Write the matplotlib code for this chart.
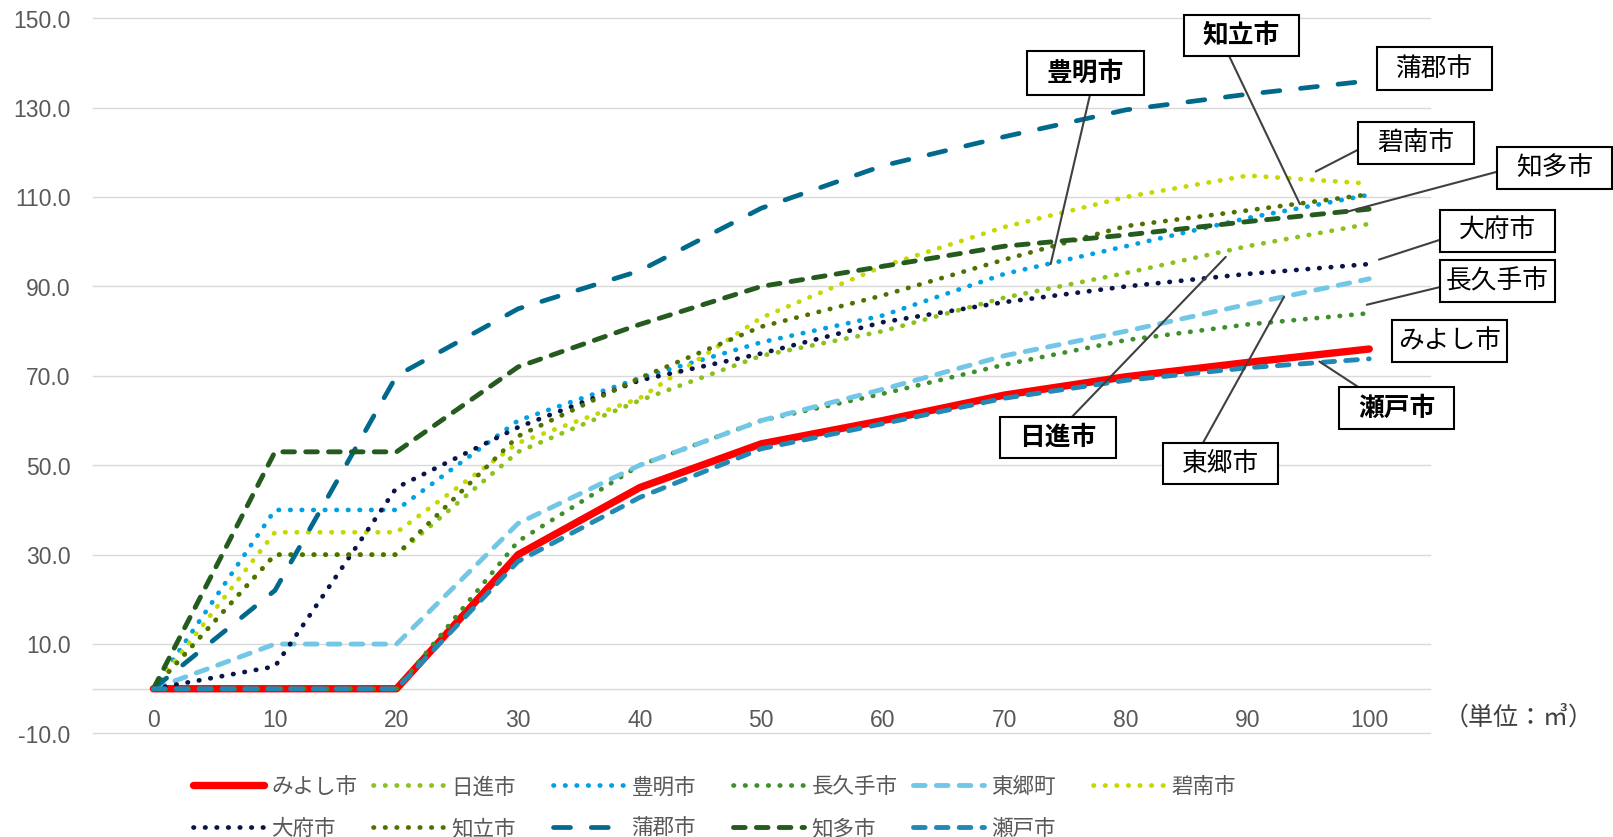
import matplotlib
matplotlib.use('Agg')
import matplotlib.pyplot as plt
from matplotlib.patches import Rectangle

# ---------------------------------------------------------------------------
# Data (値は図から読み取り)
# ---------------------------------------------------------------------------
AMOUNTS = [0, 10, 20, 30, 40, 50, 60, 70, 80, 90, 100]

NAMES = ['みよし市', '日進市', '豊明市', '長久手市', '東郷町', '碧南市',
         '大府市', '知立市', '蒲郡市', '知多市', '瀬戸市']

MIYOSHI   = [0, 0, 0, 30, 45, 54.8, 60, 65.7, 69.8, 73, 76]
NISSHIN   = [0, 30, 30, 53, 64.5, 74.5, 80, 87.5, 93, 99, 104]
TOYOAKE   = [0, 40, 40, 60, 69.5, 77.5, 83.5, 92.8, 99, 105.3, 110.5]
NAGAKUTE  = [0, 0, 0, 33, 50, 60, 66, 72.5, 78, 81.5, 84]
TOGO      = [0, 10, 10, 37, 50, 60, 67, 74.5, 80, 86, 91.7]
HEKINAN   = [0, 35, 35, 55, 65, 83, 94.5, 103.3, 110, 114.8, 113]
OBU       = [0, 5, 45, 58.5, 69, 75, 82, 86.5, 90, 92.8, 95]
CHIRYU    = [0, 30, 30, 56.5, 69.5, 81, 88, 96, 103.5, 107, 110.6]
GAMAGORI  = [0, 22, 70, 85, 93.5, 107.5, 117, 123.5, 129.5, 133, 136]
CHITA     = [0, 53, 53, 72, 81.5, 90, 94.5, 99, 101.5, 104.5, 107.3]
SETO      = [0, 0, 0, 28.5, 42.8, 53.7, 59.3, 65, 69, 71.8, 73.8]

VALUES = [MIYOSHI, NISSHIN, TOYOAKE, NAGAKUTE, TOGO, HEKINAN,
          OBU, CHIRYU, GAMAGORI, CHITA, SETO]

# ---------------------------------------------------------------------------
# Styles
# ---------------------------------------------------------------------------
COLORS = ['#FF0000', '#8CC21E', '#00A0E4', '#3E8E2A', '#72C6E6', '#C5D800',
          '#0B1446', '#4F7100', '#00698C', '#255B1E', '#2189B4']
KINDS = ['solid', 'dot', 'dot', 'dot', 'dash', 'dot',
         'dot', 'dot', 'long', 'dash', 'dash']

STYLE = {
    'solid': dict(lw=5.3, ls='-', solid_capstyle='round', solid_joinstyle='round'),
    'dot':   dict(lw=3.4, ls=(0, (0.1, 2.35)), dash_capstyle='round'),
    'dash':  dict(lw=3.5, ls=(0, (2.4, 2.3)), dash_capstyle='round'),
    'long':  dict(lw=3.4, ls=(0, (3.6, 4.4)), dash_capstyle='round'),
}

GRID = '#D9D9D9'
TICK = '#595959'
JP = ['Noto Sans CJK JP', 'DejaVu Sans']

# callout boxes: text, box (x0, y0, x1, y1) in pixels from top-left, bold,
# leader start in pixels, leader end in data units
CALLOUTS = [
    ('豊明市',   (1027, 51, 1144, 95),   True,  (1090, 95),  (73.8, 95.0)),
    ('知立市',   (1184, 15, 1299, 56),   True,  (1229, 56),  (94.3, 108.4)),
    ('蒲郡市',   (1377, 47, 1492, 90),   False, None, None),
    ('碧南市',   (1358, 122, 1474, 164), False, (1358, 150), (95.6, 115.7)),
    ('知多市',   (1497, 147, 1612, 189), False, (1497, 172), (98.3, 106.8)),
    ('大府市',   (1440, 210, 1555, 252), False, (1440, 240), (100.8, 96.0)),
    ('長久手市', (1440, 260, 1555, 302), False, (1441, 287), (99.8, 85.9)),
    ('みよし市', (1392, 320, 1507, 362), False, None, None),
    ('瀬戸市',   (1339, 387, 1454, 429), True,  (1358, 387), (95.9, 73.2)),
    ('東郷市',   (1163, 443, 1278, 484), False, (1203, 443), (93.0, 87.7)),
    ('日進市',   (1000, 417, 1116, 458), True,  (1072, 417), (88.2, 96.6)),
]

W, H = 1613, 837


def fx(x):
    return x / W


def fy(y):
    return 1 - y / H


def main():
    plt.rcParams['font.family'] = ['Liberation Sans', 'Noto Sans CJK JP', 'DejaVu Sans']

    # +0.3 px so that the float size does not round down to 836
    fig = plt.figure(figsize=(W / 100, (H + 0.3) / 100), dpi=100, facecolor='white')
    ax = fig.add_axes([92.6 / W, 103.5 / H, 1337.4 / W, 715 / H])

    lines = []
    for vals, color, kind in zip(VALUES, COLORS, KINDS):
        ln, = ax.plot(AMOUNTS, vals, color=color, **STYLE[kind])
        lines.append(ln)

    ax.set_xlim(-5, 105)
    ax.set_ylim(-10, 150)
    ax.set_xticks(AMOUNTS)
    ax.set_xticklabels([str(a) for a in AMOUNTS])
    ax.set_yticks(range(-10, 151, 20))
    ax.set_yticklabels([f'{v:.1f}' for v in range(-10, 151, 20)])

    ax.yaxis.grid(True, color=GRID, lw=1.0)
    for gl in ax.get_ygridlines():
        gl.set_clip_on(False)
    ax.set_axisbelow(True)

    for side in ('left', 'right', 'top'):
        ax.spines[side].set_visible(False)
    ax.spines['bottom'].set_position(('data', 0))
    ax.spines['bottom'].set_color(GRID)
    ax.spines['bottom'].set_linewidth(1.0)
    ax.spines['bottom'].set_zorder(0.5)

    ax.tick_params(axis='x', length=0, pad=14, labelsize=16.5, labelcolor=TICK)
    ax.tick_params(axis='y', length=0, pad=16, labelsize=16.5, labelcolor=TICK)

    # unit
    fig.text(fx(1519), fy(717), '（単位：㎥）', ha='center', va='center',
             fontsize=18, color='#404040', family=JP)

    # legend, one entry each so the columns keep equal spacing
    for i, (ln, name) in enumerate(zip(lines, NAMES)):
        row, col = divmod(i, 6)
        x = 193 + 180 * col
        y = 787 + 42 * row
        fig.legend(handles=[ln], labels=[name], loc='center left',
                   bbox_to_anchor=(fx(x), fy(y)), frameon=False,
                   borderpad=0, borderaxespad=0, handlelength=3.3,
                   handletextpad=0.35, labelcolor=TICK,
                   prop=dict(family=JP, size=15.5))

    # callouts
    for text, (x0, y0, x1, y1), bold, start, end in CALLOUTS:
        if start is not None:
            ax.annotate('', xy=end, xycoords='data',
                        xytext=(fx(start[0]), fy(start[1])),
                        textcoords='figure fraction', annotation_clip=False,
                        arrowprops=dict(arrowstyle='-', color='#404040',
                                        lw=1.5, shrinkA=0, shrinkB=0))
        rect = Rectangle((fx(x0), fy(y1)), fx(x1) - fx(x0), fy(y0) - fy(y1),
                         transform=fig.transFigure, facecolor='white',
                         edgecolor='black', lw=1.5, zorder=5)
        fig.patches.append(rect)
        fig.text(fx((x0 + x1) / 2), fy((y0 + y1) / 2), text,
                 ha='center', va='center', fontsize=18.5, color='black',
                 fontweight='bold' if bold else 'normal', family=JP, zorder=6)

    fig.savefig('out.png', dpi=100, facecolor='white')
    plt.close(fig)


if __name__ == '__main__':
    main()
